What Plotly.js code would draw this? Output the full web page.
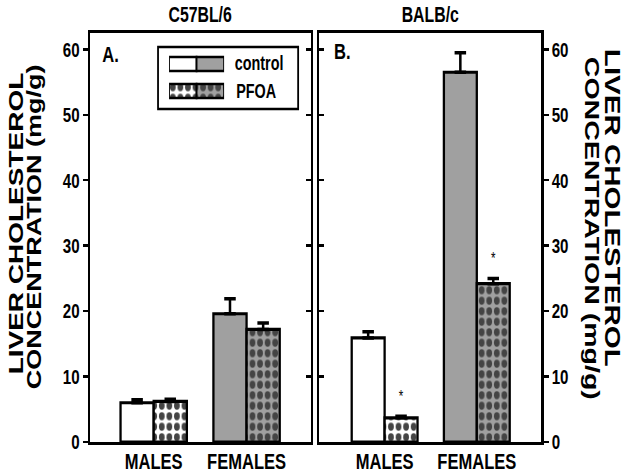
<!DOCTYPE html>
<html>
<head>
<meta charset="utf-8">
<script src="https://cdn.plot.ly/plotly-3.0.1.min.js"></script>
<style>
html,body{margin:0;padding:0;overflow:hidden;background:#fff}
#wrap{width:627px;height:474px;overflow:hidden;position:relative}
#chart{width:871px;height:474px;transform-origin:0 0}
</style>
</head>
<body>
<div id="wrap"><div id="chart"></div></div>
<script>
// ---- data ----
const groups = ['MALES', 'FEMALES'];
const c57Control = [6.0, 19.6];
const c57ControlErr = [0.45, 2.3];
const c57Pfoa = [6.2, 17.2];
const c57PfoaErr = [0.35, 1.0];
const balbControl = [15.9, 56.5];
const balbControlErr = [0.95, 3.0];
const balbPfoa = [3.7, 24.2];
const balbPfoaErr = [0.25, 0.8];
const c57PfoaSig = [false, false];
const balbPfoaSig = [true, true];
const panelTitles = ['C57BL/6', 'BALB/c'];
const panelLetters = ['A.', 'B.'];
const legendNames = ['control', 'PFOA'];
const yTitle1 = 'LIVER CHOLESTEROL';
const yTitle2 = 'CONCENTRATION (mg/g)';

// ---- styling / geometry ----
const W = 871, H = 474;
const S = 627 / W;               // horizontal squeeze of the original figure
document.getElementById('chart').style.transform = 'scaleX(' + S + ')';
const ML = 90 / S, MR = W - 541 / S, MT = 33, MB = 32;
const PW = W - ML - MR, PH = H - MT - MB;
const px = xs => (xs / S - ML) / PW;
const py = ys => (H - MB - ys) / PH;

const GRAY = '#a0a0a0';
const groupColors = ['#ffffff', GRAY];
const FONT = 'Liberation Sans, Arial, Helvetica, sans-serif';
const BARGAP = 0.286;
const barW = (1 - BARGAP) / 2;
const YMAX = 62.5;
const PATTERN = {shape: '.', size: 10.5, solidity: 0.45, fgcolor: '#000', fgopacity: 1, fillmode: 'overlay'};

function barTrace(name, vals, errs, patterned, xa, ya) {
  const zeros = vals.map(() => 0);
  const marker = {
    color: groupColors,
    line: {color: '#000', width: 3.2}
  };
  if (patterned) marker.pattern = Object.assign({}, PATTERN);
  return {
    type: 'bar', name: name, x: groups, y: vals, xaxis: xa, yaxis: ya,
    marker: marker,
    error_y: {type: 'data', symmetric: false, array: errs, arrayminus: zeros,
              color: '#000', thickness: 3.5, width: 8},
    hoverinfo: 'skip', showlegend: false
  };
}

const traces = [
  barTrace(legendNames[0], c57Control, c57ControlErr, false, 'x', 'y'),
  barTrace(legendNames[1], c57Pfoa, c57PfoaErr, true, 'x', 'y'),
  barTrace(legendNames[0], balbControl, balbControlErr, false, 'x2', 'y2'),
  barTrace(legendNames[1], balbPfoa, balbPfoaErr, true, 'x2', 'y2'),
  {type: 'scatter', x: [], y: [], xaxis: 'x', yaxis: 'y3', hoverinfo: 'skip', showlegend: false},
  {type: 'scatter', x: [], y: [], xaxis: 'x2', yaxis: 'y4', hoverinfo: 'skip', showlegend: false},
  // legend swatches (two-tone, like the original key)
  {type: 'bar', orientation: 'h', xaxis: 'x5', yaxis: 'y5',
   y: [1, 1, 0, 0], x: [1, 1, 1, 1], base: [0, 1, 0, 1], width: 0.52,
   marker: {color: groupColors.concat(groupColors), line: {color: '#000', width: 2.5},
            pattern: Object.assign({}, PATTERN, {shape: ['', '', '.', '.']})},
   hoverinfo: 'skip', showlegend: false}
];

const tickFont = {family: FONT, size: 21, color: '#000', weight: 'bold'};
const catFont = {family: FONT, size: 23, color: '#000', weight: 'bold'};
function xAxis(domain, range, anchor) {
  return {domain: domain, anchor: anchor, type: 'category', range: range,
          showline: true, mirror: true, linecolor: '#000', linewidth: 3.2,
          ticks: '', showgrid: false, zeroline: false, tickfont: catFont,
          ticklabelstandoff: -4, fixedrange: true};
}
function yAxis(anchor, side, showLabels, ticksDir, extra) {
  return Object.assign({anchor: anchor, side: side, range: [0, YMAX], autorange: false,
          dtick: 10, tick0: 0, ticks: ticksDir, ticklen: 7, tickwidth: 2.5, tickcolor: '#000',
          showticklabels: showLabels, tickfont: tickFont, showgrid: false, zeroline: false,
          fixedrange: true}, extra || {});
}

const annotations = [];
const doms = [[0, px(310.5)], [px(319), 1]];
panelTitles.forEach((t, i) => {
  annotations.push({text: t, xref: 'paper', yref: 'paper', x: (doms[i][0] + doms[i][1]) / 2,
    y: py(14), xanchor: 'center', yanchor: 'middle', showarrow: false,
    font: {family: FONT, size: 22, color: '#000', weight: 'bold'}});
});
[[101, 54], [332.5, 51]].forEach((p, i) => {
  annotations.push({text: panelLetters[i], xref: 'paper', yref: 'paper', x: px(p[0]), y: py(p[1]),
    xanchor: 'left', yanchor: 'middle', showarrow: false,
    font: {family: FONT, size: 23, color: '#000', weight: 'bold'}});
});
// legend labels
[[233, 63], [234.5, 91]].forEach((p, i) => {
  annotations.push({text: legendNames[i], xref: 'paper', yref: 'paper', x: px(p[0]), y: py(p[1]),
    xanchor: 'left', yanchor: 'middle', showarrow: false,
    font: {family: FONT, size: 20, color: '#000', weight: 'bold'}});
});
// axis titles
const titleSpecs = [
  [yTitle1, 15.5, 223, -90, 28], [yTitle2, 34.5, 226.5, -90, 27],
  [yTitle1, 612, 207.5, 90, 29.5], [yTitle2, 591.5, 228, 90, 28.5]
];
titleSpecs.forEach(s => {
  annotations.push({text: s[0], xref: 'paper', yref: 'paper', x: px(s[1]), y: py(s[2]),
    xanchor: 'center', yanchor: 'middle', textangle: s[3], showarrow: false,
    font: {family: FONT, size: s[4], color: '#000', weight: 'bold'}});
});
// significance stars above PFOA bars
[[c57PfoaSig, c57Pfoa, c57PfoaErr, 'x', 'y'], [balbPfoaSig, balbPfoa, balbPfoaErr, 'x2', 'y2']]
  .forEach(([sig, v, e, xr, yr]) => {
    sig.forEach((on, k) => {
      if (!on) return;
      annotations.push({text: '*', xref: xr, yref: yr, x: k + barW / 2, y: v[k] + e[k],
        yshift: 20, xanchor: 'center', yanchor: 'middle', showarrow: false,
        font: {family: FONT, size: 16, color: '#000'}});
    });
  });

const layout = {
  width: W, height: H,
  margin: {l: ML, r: MR, t: MT, b: MB, pad: 0},
  paper_bgcolor: '#fff', plot_bgcolor: '#fff',
  barmode: 'group', bargap: BARGAP, bargroupgap: 0,
  showlegend: false,
  xaxis: xAxis(doms[0], [-0.686, 1.69], 'y'),
  xaxis2: xAxis(doms[1], [-0.71, 1.70], 'y2'),
  yaxis: yAxis('x', 'left', true, 'outside', {showline: true, mirror: true, linecolor: '#000', linewidth: 3.2}),
  yaxis3: yAxis('x', 'right', false, 'inside', {overlaying: 'y'}),
  yaxis2: yAxis('x2', 'right', true, 'outside', {showline: true, mirror: true, linecolor: '#000', linewidth: 3.2}),
  yaxis4: yAxis('x2', 'left', false, 'inside', {overlaying: 'y2'}),
  xaxis5: {domain: [px(169), px(224)], anchor: 'y5', range: [0, 2], visible: false, fixedrange: true},
  yaxis5: {domain: [py(104.5), py(50.5)], anchor: 'x5', range: [-0.5, 1.5], visible: false, fixedrange: true},
  shapes: [{type: 'rect', xref: 'paper', yref: 'paper', x0: px(158), x1: px(298), y0: py(109), y1: py(47),
            line: {color: '#000', width: 2.5}, fillcolor: 'rgba(0,0,0,0)'}],
  annotations: annotations
};

Plotly.newPlot('chart', traces, layout, {staticPlot: true, displayModeBar: false});
</script>
</body>
</html>
